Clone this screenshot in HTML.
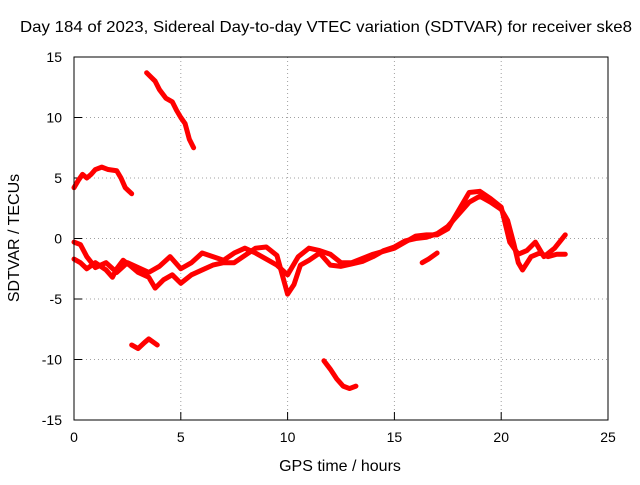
<!DOCTYPE html>
<html><head><meta charset="utf-8"><style>
body{margin:0;background:#fff}
svg text{font-family:"Liberation Sans",sans-serif;font-size:14px;fill:#000}
svg text.big{font-size:16px}
</style></head><body>
<svg id="chart" width="640" height="480">
<text class="big" x="20" y="32" textLength="612" lengthAdjust="spacingAndGlyphs">Day 184 of 2023, Sidereal Day-to-day VTEC variation (SDTVAR) for receiver ske8</text>
<text class="big" x="340" y="471" text-anchor="middle">GPS time / hours</text>
<text class="big" transform="translate(19,238) rotate(-90)" text-anchor="middle">SDTVAR / TECUs</text>
<g id="grid"></g><g id="marks"></g>
<rect x="74" y="57" width="534" height="363" fill="none" stroke="#000"/>
</svg>
<script>
const xTicks=[0,5,10,15,20,25];
const yTicks=[-15,-10,-5,0,5,10,15];
const traceTop=[[3.4,13.7],[3.8,13],[4.0,12.3],[4.3,11.6],[4.6,11.3],[4.8,10.6],[5.0,10],[5.2,9.5],[5.4,8.2],[5.6,7.5]];
const traceUpperLeft=[[0,4.2],[0.2,4.8],[0.4,5.3],[0.6,5.0],[0.8,5.3],[1.0,5.7],[1.3,5.9],[1.6,5.7],[2.0,5.6],[2.2,5.0],[2.4,4.2],[2.7,3.7]];
const traceLowerLeft=[[2.7,-8.8],[3.0,-9.1],[3.3,-8.6],[3.5,-8.3],[3.9,-8.8]];
const traceLowerMid=[[11.7,-10.1],[12.0,-10.8],[12.3,-11.6],[12.6,-12.2],[12.9,-12.4],[13.2,-12.2]];
const bandA=[[0,-1.7],[0.3,-2.0],[0.6,-2.5],[1,-2.0],[1.5,-2.6],[1.8,-3.2],[2,-2.5],[2.3,-1.8],[2.6,-2.2],[3,-2.8],[3.5,-3.2],[3.8,-4.1],[4.2,-3.4],[4.6,-3.0],[5.0,-3.7],[5.5,-3.0],[6,-2.6],[6.5,-2.2],[7,-2.0],[7.5,-2.0],[8,-1.4],[8.5,-0.8],[9,-0.7],[9.5,-1.4],[10,-4.6],[10.3,-3.8],[10.6,-2.2],[11,-1.8],[11.5,-1.2],[12,-2.2],[12.5,-2.3],[13,-2.1],[13.5,-1.9],[14,-1.5],[14.5,-1.0],[15,-0.7],[15.5,-0.2],[16,0],[16.5,0.1],[17,0.4],[17.5,1.0],[18,2.0],[18.5,3.0],[19,3.5],[19.5,3.0],[20,2.4],[20.3,1.5],[20.6,-0.5],[20.8,-2.0],[21.0,-2.6],[21.4,-1.5],[21.8,-1.2],[22.2,-1.5],[22.6,-1.3],[23,-1.3]];
const bandB=[[0,-0.3],[0.3,-0.5],[0.6,-1.5],[1,-2.4],[1.5,-2.0],[2,-2.8],[2.5,-2.0],[3,-2.4],[3.5,-2.8],[4,-2.3],[4.5,-1.5],[5,-2.5],[5.5,-2.0],[6,-1.2],[6.5,-1.5],[7,-1.8],[7.5,-1.2],[8,-0.8],[8.5,-1.2],[9,-1.7],[9.5,-2.2],[10,-3.0],[10.5,-1.5],[11,-0.8],[11.5,-1.0],[12,-1.3],[12.5,-2.0],[13,-2.0],[14,-1.3],[15,-0.8],[15.5,-0.3],[16,0.2],[16.5,0.3],[17,0.3],[17.5,0.8],[18,2.3],[18.5,3.8],[19,3.9],[19.5,3.3],[20,2.6],[20.4,-0.3],[20.8,-1.3],[21.2,-1.0],[21.6,-0.3],[22,-1.5],[22.5,-0.8],[23,0.3]];
const traceSmall=[[16.3,-2.0],[16.6,-1.7],[17,-1.2]];
const series=[traceTop,traceUpperLeft,traceLowerLeft,traceLowerMid,bandA,bandB,traceSmall];
const X=t=>74+t*534/25, Y=v=>238.5-v*12.1;
const NS="http://www.w3.org/2000/svg";
const g=document.getElementById('grid'), m=document.getElementById('marks');
function mk(tag,at,parent){const e=document.createElementNS(NS,tag);for(const k in at)e.setAttribute(k,at[k]);parent.appendChild(e);return e;}
xTicks.forEach(t=>{
 if(t>0&&t<25){const l=mk('line',{x1:X(t),x2:X(t),y1:57,y2:420,stroke:'#a0a0a0','stroke-dasharray':'1,3'},g);
 
 }
 const k=mk('line',{x1:X(t),x2:X(t),y1:420,y2:412,stroke:'#000'},g);
 
 
 const tx=mk('text',{x:X(t),y:442,'text-anchor':'middle'},g);tx.textContent=t;
 
 
});
yTicks.forEach(v=>{
 if(v>-15&&v<15){const l=mk('line',{x1:74,x2:608,y1:Y(v),y2:Y(v),stroke:'#a0a0a0','stroke-dasharray':'1,3'},g);
 
 }
 const k=mk('line',{x1:74,x2:82,y1:Y(v),y2:Y(v),stroke:'#000'},g);
 
 
 const tx=mk('text',{x:62,y:Y(v)+5,'text-anchor':'end'},g);tx.textContent=v;
 
 
});
series.forEach(s=>{
 const p=mk('polyline',{points:s.map(d=>X(d[0])+','+Y(d[1])).join(' '),fill:'none',stroke:'#f00','stroke-width':5,'stroke-linejoin':'round','stroke-linecap':'round'},m);
 
 
});
</script>
</body></html>
